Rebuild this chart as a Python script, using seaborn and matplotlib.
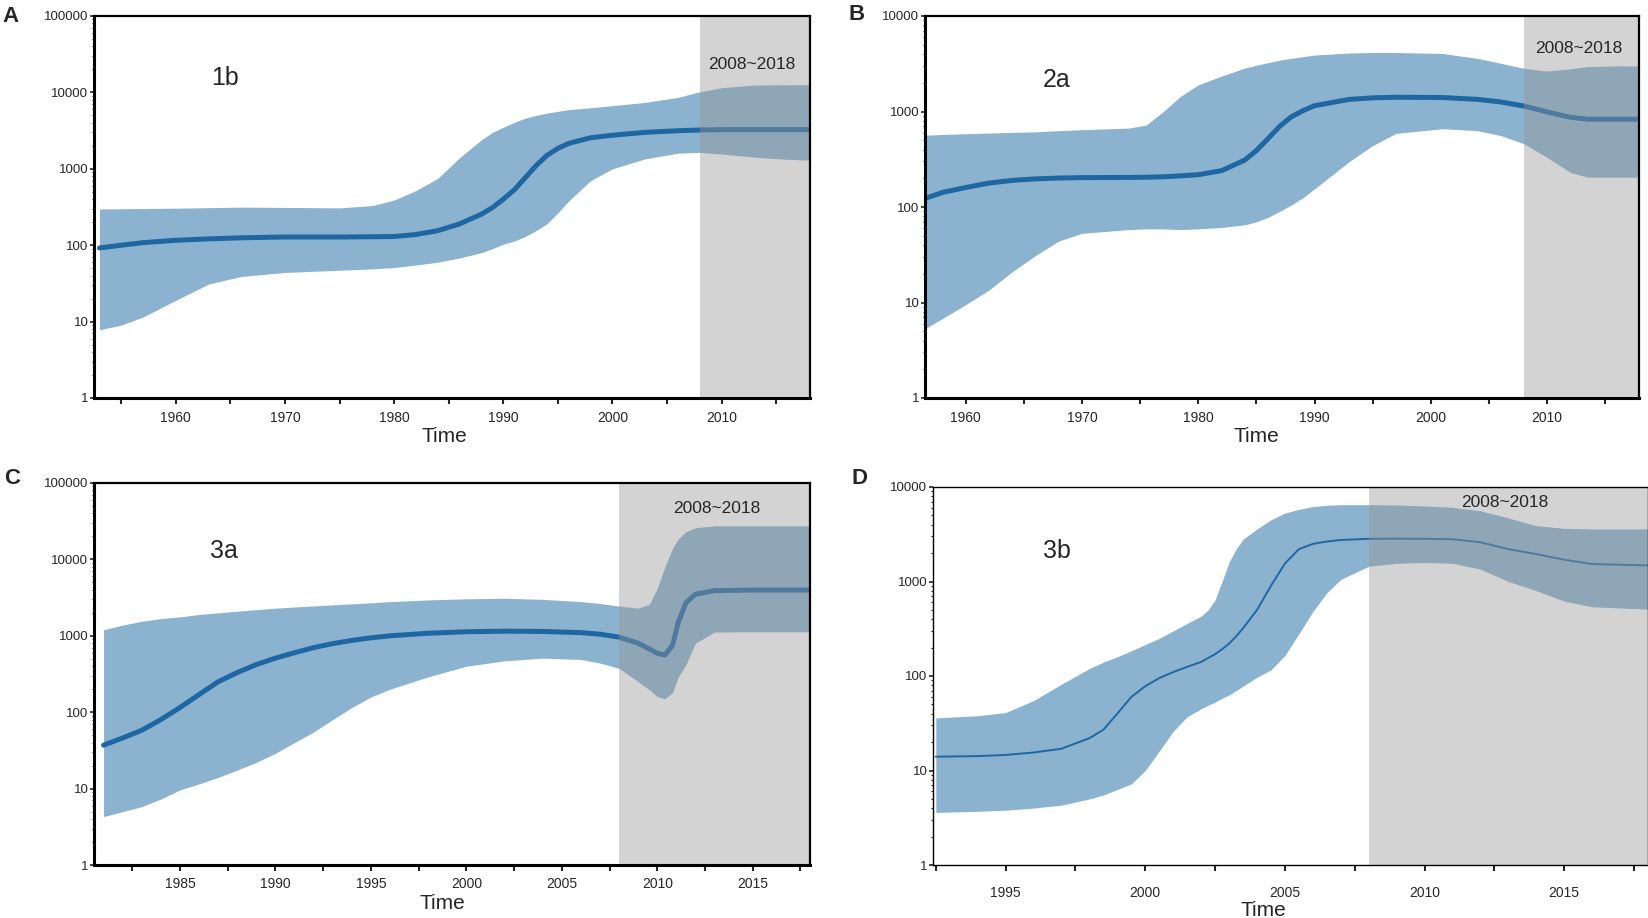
import matplotlib
matplotlib.use("Agg")
import matplotlib.pyplot as plt
import matplotlib.ticker as mticker
import seaborn as sns
import numpy as np
import pandas as pd

# ---------------- data ----------------
# Panel A : genotype 1b
a_year = [1953, 1955, 1957, 1960, 1963, 1966, 1970, 1975, 1978, 1980, 1982, 1984, 1986, 1988,
          1989, 1990, 1991, 1992, 1993, 1994, 1995, 1996, 1998, 2000, 2003, 2006, 2008, 2010,
          2013, 2016, 2018]
a_med = [92, 100, 108, 116, 121, 125, 128, 128, 129, 130, 138, 155, 190, 255,
         310, 400, 530, 760, 1100, 1500, 1850, 2150, 2550, 2750, 3000, 3150, 3220, 3250,
         3250, 3250, 3250]
a_up = [298, 300, 302, 305, 310, 315, 312, 308, 330, 390, 520, 750, 1400, 2400,
        3000, 3500, 4050, 4600, 5000, 5350, 5650, 5950, 6300, 6700, 7400, 8600, 10200, 11500,
        12500, 12600, 12600]
a_lo = [7.8, 9, 11.5, 19, 31, 39, 44, 47, 49, 51, 55, 60, 68, 80,
        90, 103, 113, 130, 155, 190, 265, 380, 700, 1000, 1350, 1600, 1640, 1560,
        1420, 1330, 1300]

# Panel B : genotype 2a
b_year = [1956.6, 1958, 1960, 1962, 1964, 1966, 1968, 1970, 1974, 1975.5, 1977, 1978.5, 1980, 1982,
          1984, 1985, 1986, 1987, 1988, 1989, 1990, 1993, 1995, 1997, 2001, 2004, 2006, 2008, 2010,
          2012, 2013.5, 2016, 2018]
b_med = [124, 142, 160, 178, 190, 197, 201, 203, 204, 205, 207, 212, 218, 240,
         310, 390, 520, 700, 880, 1020, 1150, 1340, 1390, 1410, 1400, 1340, 1260, 1140, 990,
         870, 830, 830, 830]
b_up = [565, 575, 585, 595, 605, 612, 630, 645, 670, 720, 1000, 1450, 1900, 2350,
        2850, 3050, 3250, 3450, 3600, 3750, 3900, 4100, 4150, 4150, 4050, 3600, 3200, 2830, 2650,
        2800, 2950, 3000, 3000]
b_lo = [5.4, 6.8, 9.5, 13.5, 21, 31, 44, 53, 58, 59, 59, 58, 59, 61,
        65, 70, 78, 90, 105, 125, 155, 300, 440, 590, 660, 630, 560, 460, 330,
        230, 205, 205, 205]

# Panel C : genotype 3a
c_year = [1981, 1982, 1983, 1984, 1985, 1986, 1987, 1988, 1989, 1990, 1991, 1992, 1993, 1994,
          1995, 1996, 1998, 2000, 2002, 2004, 2006, 2007, 2008, 2009, 2009.6, 2010, 2010.4,
          2010.8, 2011.1, 2011.5, 2012, 2013, 2015, 2018]
c_med = [37, 46, 58, 80, 115, 170, 250, 330, 420, 510, 600, 700, 790, 870,
         940, 1000, 1080, 1130, 1150, 1140, 1100, 1050, 960, 800, 670, 590, 560,
         750, 1500, 2700, 3500, 3900, 3970, 3970]
c_up = [1200, 1380, 1550, 1680, 1770, 1900, 2000, 2100, 2200, 2300, 2380, 2460, 2540, 2620,
        2700, 2800, 2950, 3050, 3100, 3000, 2800, 2650, 2450, 2300, 2600, 4200, 8000,
        14000, 18500, 23000, 26000, 27500, 27500, 27500]
c_lo = [4.3, 5.0, 5.8, 7.3, 9.6, 11.5, 14, 17.5, 22, 29, 40, 55, 80, 115,
        158, 200, 290, 400, 470, 510, 490, 440, 375, 250, 195, 160, 150,
        180, 290, 420, 800, 1120, 1130, 1130]

# Panel D : genotype 3b
d_year = [1992.5, 1994, 1995, 1996, 1997, 1998, 1998.5, 1999, 1999.5, 2000, 2000.5, 2001, 2001.5,
          2002, 2002.25, 2002.5, 2002.75, 2003, 2003.25, 2003.5, 2004, 2004.5, 2005, 2005.5,
          2006, 2006.5, 2007, 2008, 2009, 2010, 2011, 2012, 2013, 2014, 2015, 2016, 2018]
d_med = [14, 14.2, 14.6, 15.5, 17, 22, 27, 40, 60, 78, 95, 110, 125,
         141, 155, 170, 192, 220, 262, 320, 500, 900, 1550, 2200,
         2500, 2650, 2750, 2830, 2840, 2830, 2800, 2600, 2200, 1950, 1700, 1530, 1480]
d_up = [36, 38, 41, 55, 82, 120, 140, 160, 185, 215, 250, 300, 360,
        430, 500, 640, 1000, 1600, 2200, 2800, 3600, 4500, 5300, 5800,
        6200, 6400, 6500, 6500, 6450, 6300, 6100, 5600, 4700, 3900, 3650, 3600, 3600]
d_lo = [3.6, 3.7, 3.8, 4.0, 4.3, 5.0, 5.5, 6.3, 7.2, 10, 16, 26, 37,
        45, 49, 53, 58, 63, 70, 78, 97, 116, 165, 280,
        480, 760, 1050, 1450, 1560, 1590, 1560, 1350, 1000, 800, 620, 540, 510]

panel_letters = ["A", "B", "C", "D"]
genotypes = ["1b", "2a", "3a", "3b"]
recent_label = "2008~2018"
recent_start, recent_end = 2008, 2018
x_label = "Time"

# ---------------- style ----------------
sns.set_style("white")
plt.rcParams["font.family"] = ["Liberation Sans", "DejaVu Sans"]

FILL = "#8BB3D0"
LINE = "#1F67A3"
SHADE = (150 / 255, 150 / 255, 150 / 255)

fig = plt.figure(figsize=(16.49, 9.18), dpi=100)
W, H = 1649, 918


def add_ax(l, r, t, b):
    return fig.add_axes([l / W, 1 - b / H, (r - l) / W, (b - t) / H])


panels = [
    dict(ax=add_ax(94, 810, 16, 398), year=a_year, med=a_med, up=a_up, lo=a_lo,
         xlim=(1952.5, 2018.1), ylim=(1, 1e5), major=10, minor=5, lw=3.6, spw=(2.2, 1.6),
         gx=0.183, gy=0.838, rx=0.919, ry=0.872, xpad=5, tlab=(444, 436)),
    dict(ax=add_ax(925, 1639, 16, 398), year=b_year, med=b_med, up=b_up, lo=b_lo,
         xlim=(1956.5, 2017.9), ylim=(1, 1e4), major=10, minor=5, lw=3.6, spw=(2.2, 1.6),
         gx=0.185, gy=0.832, rx=0.916, ry=0.914, xpad=5, tlab=(1256, 436)),
    dict(ax=add_ax(94, 810, 483, 865), year=c_year, med=c_med, up=c_up, lo=c_lo,
         xlim=(1980.5, 2018), ylim=(1, 1e5), major=5, minor=2.5, lw=3.6, spw=(2.2, 1.6),
         gx=0.182, gy=0.822, rx=0.870, ry=0.932, xpad=5, tlab=(442, 904)),
    dict(ax=add_ax(933, 1648, 487, 865), year=d_year, med=d_med, up=d_up, lo=d_lo,
         xlim=(1992.4, 2018), ylim=(1, 1e4), major=5, minor=2.5, lw=1.4, spw=(1.0, 1.0),
         gx=0.173, gy=0.831, rx=0.80, ry=0.958, xpad=11, tlab=(1263, 910)),
]

for i, p in enumerate(panels):
    ax = p["ax"]
    ax.set_yscale("log")
    ax.fill_between(p["year"], p["lo"], p["up"], color=FILL, lw=0, zorder=1)
    df = pd.DataFrame({"Time": p["year"], "Ne": p["med"]})
    sns.lineplot(data=df, x="Time", y="Ne", ax=ax, color=LINE, lw=p["lw"], zorder=2)
    ax.axvspan(recent_start, recent_end, color=SHADE, alpha=0.42, lw=0, zorder=3)
    ax.set_xlim(*p["xlim"])
    ax.set_ylim(*p["ylim"])

    # y ticks
    decades = [10 ** k for k in range(int(np.log10(p["ylim"][1])) + 1)]
    ax.yaxis.set_major_locator(mticker.FixedLocator(decades))
    ax.yaxis.set_major_formatter(mticker.FixedFormatter([str(int(d)) for d in decades]))
    ax.yaxis.set_minor_locator(mticker.LogLocator(base=10, subs=np.arange(2, 10)))
    ax.yaxis.set_minor_formatter(mticker.NullFormatter())
    ax.tick_params(axis="y", which="major", direction="out", length=3, width=1.2,
                   labelsize=9.5, pad=1, left=True)
    ax.tick_params(axis="y", which="minor", direction="out", length=1.5, width=0.8, left=True)

    # x ticks
    ax.xaxis.set_major_locator(mticker.MultipleLocator(p["major"]))
    ax.xaxis.set_minor_locator(mticker.MultipleLocator(p["minor"]))
    ax.xaxis.set_major_formatter(mticker.FormatStrFormatter("%d"))
    ax.tick_params(axis="x", which="both", direction="out", length=4, width=1.5,
                   labelsize=10, pad=p["xpad"], bottom=True)

    ax.set_xlabel(x_label, fontsize=15)
    l, r = ax.get_position().x0 * W, ax.get_position().x1 * W
    bpx = (1 - ax.get_position().y0) * H
    tpx = (1 - ax.get_position().y1) * H
    ax.xaxis.set_label_coords((p["tlab"][0] - l) / (r - l), -(p["tlab"][1] - bpx) / (bpx - tpx))
    ax.xaxis.label.set_va("center")
    ax.set_ylabel("")

    for side in ["left", "bottom"]:
        ax.spines[side].set_linewidth(p["spw"][0])
        ax.spines[side].set_color("black")
    for side in ["top", "right"]:
        ax.spines[side].set_linewidth(p["spw"][1])
        ax.spines[side].set_color("black")
    for s in ax.spines.values():
        s.set_zorder(5)

    ax.text(p["gx"], p["gy"], genotypes[i], transform=ax.transAxes, fontsize=18,
            ha="center", va="center", zorder=6)
    ax.text(p["rx"], p["ry"], recent_label, transform=ax.transAxes, fontsize=12.5,
            ha="center", va="center", zorder=6)

letter_pos = [(11, 17), (857, 15), (12, 478), (860, 479)]
for (lx, ly), letter in zip(letter_pos, panel_letters):
    fig.text(lx / W, 1 - ly / H, letter, fontsize=16, fontweight="bold",
             ha="center", va="center")

fig.savefig("out.png", dpi=100)
